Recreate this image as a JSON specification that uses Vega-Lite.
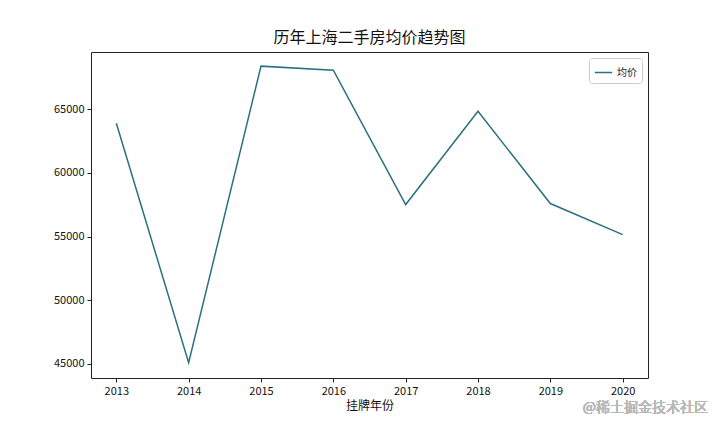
{
  "$schema": "https://vega.github.io/schema/vega-lite/v6.json",
  "autosize": "none",
  "width": 557,
  "height": 326,
  "padding": {"left": 91, "top": 52, "right": 72, "bottom": 54},
  "background": "white",
  "title": {
    "text": "历年上海二手房均价趋势图",
    "font": "Noto Sans CJK SC",
    "fontSize": 16,
    "fontWeight": "normal",
    "color": "#111",
    "offset": 6
  },
  "config": {
    "view": {"stroke": "#222", "strokeWidth": 1},
    "font": "Noto Sans CJK SC",
    "axis": {
      "grid": false,
      "domain": false,
      "tickColor": "#222",
      "tickSize": 4,
      "labelFont": "Noto Sans CJK SC",
      "labelFontSize": 11,
      "labelColor": "#111",
      "titleFont": "Noto Sans CJK SC",
      "titleFontWeight": "normal",
      "titleFontSize": 12,
      "titleColor": "#111"
    }
  },
  "data": {
    "values": [
      {"年份": 2013, "均价": 63900},
      {"年份": 2014, "均价": 45100},
      {"年份": 2015, "均价": 68390},
      {"年份": 2016, "均价": 68070},
      {"年份": 2017, "均价": 57520},
      {"年份": 2018, "均价": 64840},
      {"年份": 2019, "均价": 57600},
      {"年份": 2020, "均价": 55160}
    ]
  },
  "layer": [
    {
      "mark": {"type": "line", "strokeWidth": 1.5},
      "encoding": {
        "x": {
          "field": "年份",
          "type": "quantitative",
          "title": "挂牌年份",
          "scale": {"domain": [2012.65, 2020.35], "nice": false, "zero": false},
          "axis": {"values": [2013, 2014, 2015, 2016, 2017, 2018, 2019, 2020], "format": "d", "labelPadding": 3, "titlePadding": 4}
        },
        "y": {
          "field": "均价",
          "type": "quantitative",
          "title": null,
          "scale": {"domain": [43900, 69500], "nice": false, "zero": false},
          "axis": {"values": [45000, 50000, 55000, 60000, 65000], "format": "d", "labelPadding": 3}
        },
        "color": {
          "datum": "均价",
          "type": "nominal",
          "scale": {"range": ["#2b7080"]},
          "legend": {
            "title": null,
            "orient": "top-right",
            "offset": 6,
            "padding": 5,
            "strokeColor": "#ccc",
            "fillColor": "white",
            "cornerRadius": 3,
            "symbolType": "stroke",
            "symbolSize": 300,
            "symbolStrokeWidth": 1.5,
            "labelFont": "Noto Sans CJK SC",
            "labelFontSize": 10,
            "labelColor": "#222"
          }
        }
      }
    },
    {
      "mark": {"type": "text", "align": "right", "baseline": "middle", "fontSize": 14, "color": "#b8b8b8", "font": "Noto Sans CJK SC"},
      "encoding": {
        "x": {"datum": 2021.18, "type": "quantitative"},
        "y": {"datum": 41540, "type": "quantitative"},
        "text": {"value": "@稀土掘金技术社区"}
      }
    }
  ]
}
